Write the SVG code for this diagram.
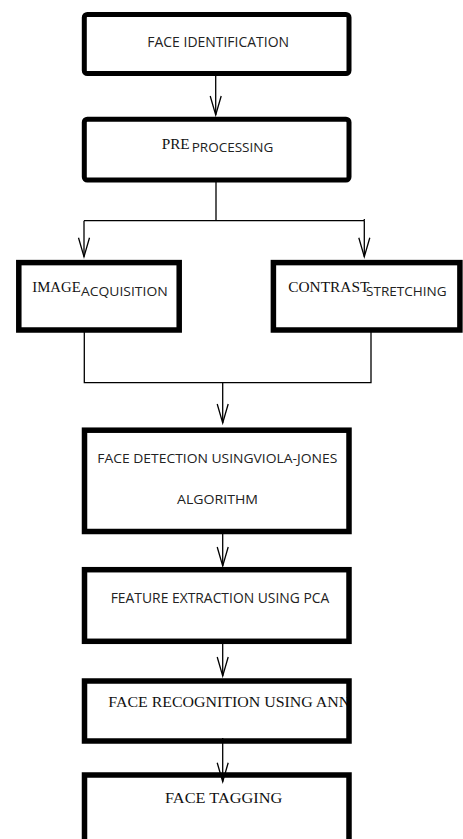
<svg xmlns="http://www.w3.org/2000/svg" width="463" height="839" viewBox="0 0 463 839">
<style>
.box{fill:#fff;stroke:#000;stroke-width:5.5}
.rbox{fill:#fff;stroke:#000;stroke-width:5}
.sans{font-family:"Open Sans","Noto Sans","Liberation Sans",sans-serif;fill:#222}
.serif{font-family:"Liberation Serif","Times New Roman",serif;fill:#111}
.conn{fill:none;stroke:#000;stroke-width:1.3}
</style>
<defs>
<marker id="arr" markerUnits="userSpaceOnUse" markerWidth="24" markerHeight="16" refX="0" refY="0" orient="auto" overflow="visible">
<path d="M-19,-5.5 L0,0 L-19,5.5" fill="none" stroke="#000" stroke-width="1.3"/>
</marker>
</defs>
<rect width="463" height="839" fill="#fff"/>
<g id="n1">
<rect class="rbox" x="84.3" y="14.5" width="264.7" height="59" rx="3"/>
<text class="sans" x="147.3" y="46.7" font-size="13.6" textLength="141.7" lengthAdjust="spacingAndGlyphs">FACE IDENTIFICATION</text>
</g>
<g id="n2">
<rect class="rbox" x="84.3" y="119.2" width="264.7" height="60.8" rx="3"/>
<text class="serif" x="161.7" y="149.3" font-size="14.5" textLength="28" lengthAdjust="spacingAndGlyphs">PRE</text>
<text class="sans" x="191.7" y="151.7" font-size="12.8" textLength="81.6" lengthAdjust="spacingAndGlyphs">PROCESSING</text>
</g>
<g id="n3">
<rect class="box" x="18.8" y="262.6" width="160.4" height="67.4"/>
<text class="serif" x="32.3" y="292.3" font-size="14.6" textLength="48.4" lengthAdjust="spacingAndGlyphs">IMAGE</text>
<text class="sans" x="81" y="296" font-size="13" textLength="86.7" lengthAdjust="spacingAndGlyphs">ACQUISITION</text>
</g>
<g id="n4">
<rect class="box" x="273.4" y="262.6" width="186.5" height="67.4"/>
<text class="serif" x="288.3" y="292.3" font-size="14.6" textLength="81" lengthAdjust="spacingAndGlyphs">CONTRAST</text>
<text class="sans" x="366" y="296" font-size="13" textLength="80.7" lengthAdjust="spacingAndGlyphs">STRETCHING</text>
</g>
<g id="n5">
<rect class="box" x="84.5" y="430.2" width="264.5" height="101.3"/>
<text class="sans" x="97.3" y="462.7" font-size="13.2" textLength="240" lengthAdjust="spacingAndGlyphs">FACE DETECTION USINGVIOLA-JONES</text>
<text class="sans" x="177" y="504" font-size="13.2" textLength="81" lengthAdjust="spacingAndGlyphs">ALGORITHM</text>
</g>
<g id="n6">
<rect class="box" x="84.5" y="569.7" width="264.5" height="71.6"/>
<text class="sans" x="110.7" y="602.7" font-size="14" textLength="218.6" lengthAdjust="spacingAndGlyphs">FEATURE EXTRACTION USING PCA</text>
</g>
<g id="n7">
<text class="serif" x="108.3" y="706.7" font-size="15.3" textLength="242" lengthAdjust="spacingAndGlyphs">FACE RECOGNITION USING ANN</text>
<rect class="box" x="84.5" y="681" width="264.5" height="60" fill="none" style="fill:none"/>
</g>
<g id="n8">
<rect class="box" x="84.5" y="775" width="264.5" height="80"/>
<text class="serif" x="165" y="802.7" font-size="15.3" textLength="117.3" lengthAdjust="spacingAndGlyphs">FACE TAGGING</text>
</g>
<g id="connectors">
<path class="conn" d="M215.7,73.5 V115" marker-end="url(#arr)"/>
<path class="conn" d="M216,180 V220.7 M84,220.7 H364.3 M364.3,219 V220.7"/>
<path class="conn" d="M84,220.7 V256.7" marker-end="url(#arr)"/>
<path class="conn" d="M364.3,220.7 V256.7" marker-end="url(#arr)"/>
<path class="conn" d="M84.3,330 V382.7 H371 V330"/>
<path class="conn" d="M222.7,382.7 V423" marker-end="url(#arr)"/>
<path class="conn" d="M222.7,531.5 V566" marker-end="url(#arr)"/>
<path class="conn" d="M222.7,641.3 V676" marker-end="url(#arr)"/>
<path class="conn" d="M222.7,738 V781.7" marker-end="url(#arr)"/>
</g>
</svg>
